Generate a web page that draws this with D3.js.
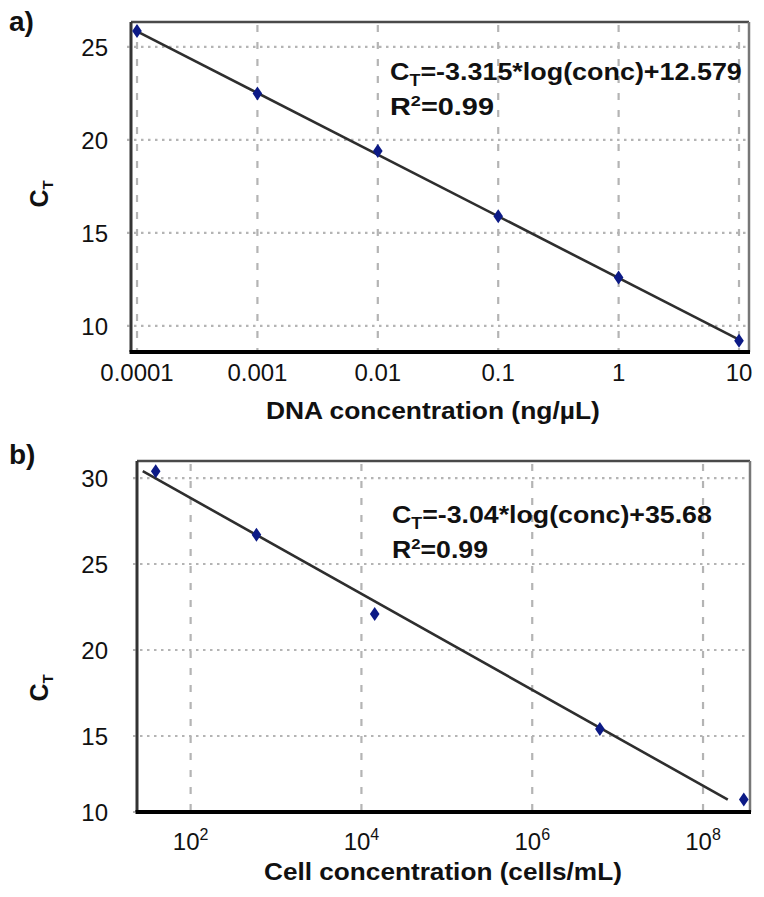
<!DOCTYPE html>
<html><head><meta charset="utf-8">
<script src="https://cdn.jsdelivr.net/npm/d3@7"></script>
<style>
html,body{margin:0;padding:0;background:#fff;}
svg{display:block;font-family:"Liberation Sans",Arial,sans-serif;}
</style></head>
<body>
<svg id="chart" width="764" height="897"></svg>
<script>
// ---------- data ----------
const dnaConc = [0.0001, 0.001, 0.01, 0.1, 1, 10];
const dnaCt   = [25.85, 22.5, 19.4, 15.9, 12.6, 9.2];
const dnaTicks = [0.0001, 0.001, 0.01, 0.1, 1, 10];
const dnaTickLabels = ["0.0001", "0.001", "0.01", "0.1", "1", "10"];
const dnaYTicks = [10, 15, 20, 25];
const dnaSlope = -3.315, dnaIntercept = 12.579;
const dnaEquation = "=-3.315*log(conc)+12.579";

const cellConc = [39, 590, 14300, 6.2e6, 3.0e8];
const cellCt   = [30.4, 26.7, 22.1, 15.4, 11.3];
const cellFitX = [27.5, 1.95e8];
const cellFitY = [30.4, 11.3];
const cellTicks = [1e2, 1e4, 1e6, 1e8];
const cellTickExp = ["2", "4", "6", "8"];
const cellYTicks = [10, 15, 20, 25, 30];
const cellEquation = "=-3.04*log(conc)+35.68";

const svg = d3.select("#chart");

// fit a text element horizontally to a target width (reference text is slightly stretched)
function stretch(sel, x, y, width) {
  const w = sel.node().getBBox().width;
  const k = width / w;
  sel.attr("x", 0).attr("y", 0).attr("transform", `translate(${x},${y}) scale(${k},1)`);
}

function panel(cfg) {
  const g = svg.append("g");
  const {x, y, box} = cfg;
  // grid
  const grid = g.append("g");
  grid.selectAll("line.v").data(cfg.xTicks).join("line")
    .attr("x1", d => x(d)).attr("x2", d => x(d))
    .attr("y1", box.top + 3).attr("y2", box.bottom - 2)
    .attr("stroke", "#b4b4b4").attr("stroke-width", 2.2)
    .attr("stroke-dasharray", "7,10");
  grid.selectAll("line.h").data(cfg.yTicks).join("line")
    .attr("x1", box.left - 4).attr("x2", box.right - 1)
    .attr("y1", d => y(d)).attr("y2", d => y(d))
    .attr("stroke", "#b4b4b4").attr("stroke-width", 2.2)
    .attr("stroke-dasharray", "2.5,4.5");
  // frame
  g.append("line").attr("x1", box.left).attr("x2", box.right).attr("y1", box.top).attr("y2", box.top)
    .attr("stroke", "#4a4a4a").attr("stroke-width", 2.5);
  g.append("line").attr("x1", box.right).attr("x2", box.right).attr("y1", box.top).attr("y2", box.bottom)
    .attr("stroke", "#777").attr("stroke-width", 2.5);
  g.append("line").attr("x1", box.left).attr("x2", box.left).attr("y1", box.top).attr("y2", box.bottom)
    .attr("stroke", "#333").attr("stroke-width", 3);
  g.append("line").attr("x1", box.left - 1.5).attr("x2", box.right + 1).attr("y1", box.bottom).attr("y2", box.bottom)
    .attr("stroke", "#000").attr("stroke-width", 4);
  // fit line
  g.append("path").datum(cfg.fit)
    .attr("d", d3.line().x(d => x(d[0])).y(d => y(d[1])))
    .attr("fill", "none").attr("stroke", "#2e2e2e").attr("stroke-width", 2.6);
  // points
  g.selectAll("path.pt").data(cfg.points).join("path")
    .attr("transform", d => `translate(${x(d[0])},${y(d[1])})`)
    .attr("d", "M0,-7L4.8,0L0,7L-4.8,0Z")
    .attr("fill", "#0c1a86");
  // y tick labels
  g.selectAll("text.yt").data(cfg.yTicks).join("text")
    .attr("x", cfg.yTickX).attr("y", d => y(d)).attr("dy", "0.36em")
    .attr("text-anchor", "end").attr("font-size", 24).attr("fill", "#111")
    .text(d => d);
  // x tick labels
  const xt = g.selectAll("text.xt").data(cfg.xTicks).join("text")
    .attr("x", d => x(d)).attr("y", cfg.xTickY)
    .attr("text-anchor", "middle").attr("font-size", 24).attr("fill", "#111");
  cfg.xLabel(xt);
  // x title
  const xtt = g.append("text")
    .attr("font-size", 24).attr("font-weight", "bold").attr("fill", "#111")
    .text(cfg.xTitle);
  stretch(xtt, cfg.xTitleX, cfg.xTitleY, cfg.xTitleW);
  // y title C_T
  const yt = g.append("text")
    .attr("transform", `translate(${cfg.yTitleX},${cfg.yTitleY}) rotate(-90)`)
    .attr("text-anchor", "middle").attr("font-size", 25).attr("font-weight", "bold").attr("fill", "#111");
  yt.append("tspan").text("C");
  yt.append("tspan").attr("font-size", 15).attr("dy", 5).text("T");
  // panel letter
  g.append("text").attr("x", 9).attr("y", cfg.letterY).attr("font-size", 28).attr("font-weight", "bold")
    .attr("fill", "#111").text(cfg.letter);
  // equation
  const eq = g.append("text")
    .attr("font-size", 24).attr("font-weight", "bold").attr("fill", "#111");
  eq.append("tspan").text("C");
  eq.append("tspan").attr("font-size", 16).attr("dy", 6).text("T");
  eq.append("tspan").attr("dy", -6).text(cfg.eqText);
  stretch(eq, cfg.eqX, cfg.eqY, cfg.eqW);
  const r2 = g.append("text")
    .attr("font-size", 24).attr("font-weight", "bold").attr("fill", "#111");
  r2.append("tspan").text("R");
  r2.append("tspan").attr("font-size", 15).attr("dy", -9).text("2");
  r2.append("tspan").attr("dy", 9).text("=0.99");
  stretch(r2, cfg.eqX, cfg.eqY + 35, cfg.r2W);
}

// ---------- panel a ----------
const boxA = {left: 131, right: 749, top: 22, bottom: 352};
const xA = d3.scaleLog().domain([Math.pow(10, -4.05), Math.pow(10, 1.083)]).range([boxA.left, boxA.right]);
const yA = d3.scaleLinear().domain([8.6, 26.34]).range([boxA.bottom, boxA.top]);
panel({
  box: boxA, x: xA, y: yA,
  xTicks: dnaTicks, yTicks: dnaYTicks,
  fit: [dnaConc[0], dnaConc[dnaConc.length - 1]].map(c => [c, dnaSlope * Math.log10(c) + dnaIntercept]),
  points: dnaConc.map((c, i) => [c, dnaCt[i]]),
  yTickX: 108, xTickY: 381,
  xLabel: sel => sel.text((d, i) => dnaTickLabels[i]),
  xTitle: "DNA concentration (ng/µL)", xTitleX: 266, xTitleY: 419, xTitleW: 334,
  yTitleX: 48, yTitleY: 194,
  letter: "a)", letterY: 31,
  eqX: 390, eqY: 80, eqW: 352, r2W: 104, eqText: dnaEquation
});

// ---------- panel b ----------
const boxB = {left: 137, right: 750, top: 461, bottom: 812};
const xB = d3.scaleLog().domain([Math.pow(10, 1.372), Math.pow(10, 8.55)]).range([boxB.left, boxB.right]);
const yB = d3.scaleLinear().domain([10.58, 30.99]).range([boxB.bottom, boxB.top]).clamp(true);
panel({
  box: boxB, x: xB, y: yB,
  xTicks: cellTicks, yTicks: cellYTicks,
  fit: cellFitX.map((c, i) => [c, cellFitY[i]]),
  points: cellConc.map((c, i) => [c, cellCt[i]]),
  yTickX: 108, xTickY: 850,
  xLabel: sel => {
    sel.append("tspan").text("10");
    sel.append("tspan").attr("font-size", 16).attr("dy", -10).text((d, i) => cellTickExp[i]);
  },
  xTitle: "Cell concentration (cells/mL)", xTitleX: 264, xTitleY: 880, xTitleW: 358,
  yTitleX: 48, yTitleY: 688,
  letter: "b)", letterY: 464,
  eqX: 392, eqY: 523, eqW: 320, r2W: 96, eqText: cellEquation
});
</script>
</body></html>
